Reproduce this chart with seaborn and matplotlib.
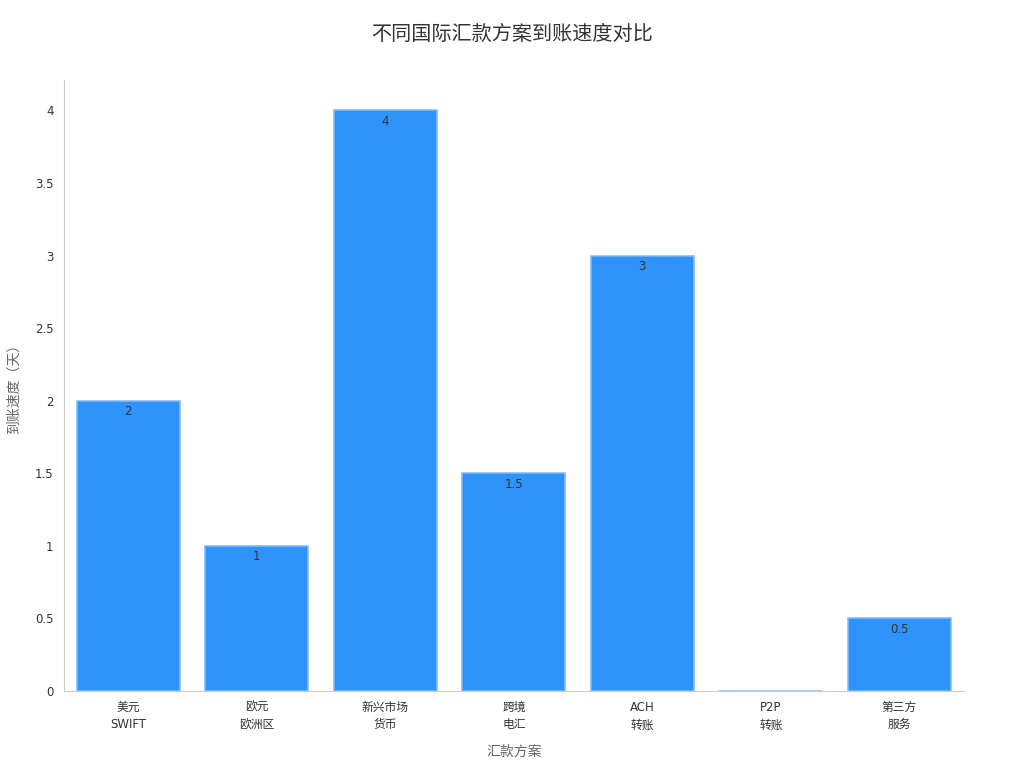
import matplotlib
matplotlib.use("Agg")
import matplotlib.pyplot as plt
import seaborn as sns
import pandas as pd

categories = ["美元\nSWIFT", "欧元\n欧洲区", "新兴市场\n货币", "跨境\n电汇", "ACH\n转账", "P2P\n转账", "第三方\n服务"]
values = [2, 1, 4, 1.5, 3, 0, 0.5]
value_labels = ["2", "1", "4", "1.5", "3", "", "0.5"]

sns.set_theme(style="white")
plt.rcParams['font.family'] = ['DejaVu Sans', 'Noto Sans CJK SC']

df = pd.DataFrame({"cat": categories, "val": values})

fig = plt.figure(figsize=(10.24, 7.68), dpi=100)
ax = fig.add_axes([0.0625, 0.1003, 0.8785, 0.7956])

sns.barplot(data=df, x="cat", y="val", color="#2E93FA", saturation=1, width=0.8,
            edgecolor="#80BBF9", linewidth=1.1, ax=ax)

for i, (v, lab) in enumerate(zip(values, value_labels)):
    if lab:
        ax.text(i, v - 0.03, lab, ha="center", va="top", fontsize=8.5, color="#333333")

ax.set_xlim(-0.5, 6.5)
ax.set_ylim(0, 4.21)
ax.set_yticks([0, 0.5, 1, 1.5, 2, 2.5, 3, 3.5, 4])
ax.set_yticklabels(["0", "0.5", "1", "1.5", "2", "2.5", "3", "3.5", "4"])

ax.set_xlabel("汇款方案", fontsize=10, color="#666666", labelpad=10)
ax.set_ylabel("到账速度（天）", fontsize=10, color="#666666", labelpad=10)
ax.tick_params(axis="both", labelsize=8.5, colors="#333333", length=4, width=0.8, color="#999999")
ax.tick_params(axis="x", pad=3)
for t in ax.get_xticklabels():
    t.set_linespacing(1.45)

for s in ["top", "right"]:
    ax.spines[s].set_visible(False)
for s in ["left", "bottom"]:
    ax.spines[s].set_color("#CCCCCC")
    ax.spines[s].set_linewidth(0.8)

fig.suptitle("不同国际汇款方案到账速度对比", fontsize=14.5, color="#333333", y=0.968)

fig.savefig("out.png", dpi=100)
